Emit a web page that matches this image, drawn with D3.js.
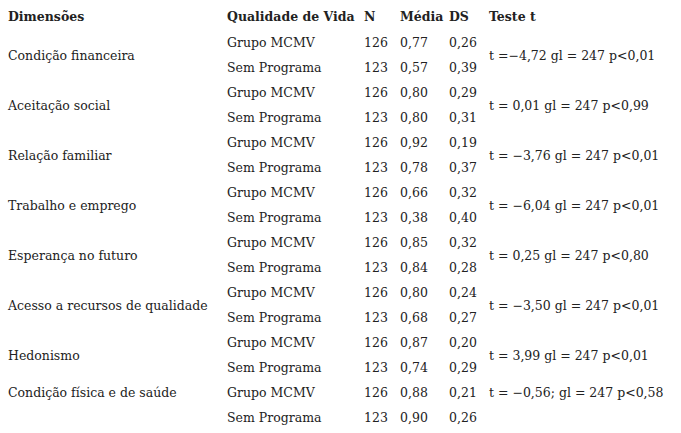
<!DOCTYPE html><html><head><meta charset="utf-8"><script src="https://cdn.jsdelivr.net/npm/d3@7"></script>
<style>body{margin:0;background:#fff}text{font-family:"DejaVu Serif",serif;font-size:12.5px;fill:#222}</style></head><body>
<svg id="c" width="681" height="433"></svg>
<script>
const headers=["Dimensões","Qualidade de Vida","N","Média","DS","Teste t"];
const dimensions=["Condição financeira","Aceitação social","Relação familiar","Trabalho e emprego","Esperança no futuro","Acesso a recursos de qualidade","Hedonismo","Condição física e de saúde"];
const groups=["Grupo MCMV","Sem Programa"];
const nValues=[[126,123],[126,123],[126,123],[126,123],[126,123],[126,123],[126,123],[126,123]];
const means=[["0,77","0,57"],["0,80","0,80"],["0,92","0,78"],["0,66","0,38"],["0,85","0,84"],["0,80","0,68"],["0,87","0,74"],["0,88","0,90"]];
const sds=[["0,26","0,39"],["0,29","0,31"],["0,19","0,37"],["0,32","0,40"],["0,32","0,28"],["0,24","0,27"],["0,20","0,29"],["0,21","0,26"]];
const tests=["t =−4,72 gl = 247 p<0,01","t = 0,01 gl = 247 p<0,99","t = −3,76 gl = 247 p<0,01","t = −6,04 gl = 247 p<0,01","t = 0,25 gl = 247 p<0,80","t = −3,50 gl = 247 p<0,01","t = 3,99 gl = 247 p<0,01","t = −0,56; gl = 247 p<0,58"];
const labelOffset=[0.5,0.5,0.5,0.5,0.5,0.5,0.5,0];
const svg=d3.select("#c");
const x=d3.scaleOrdinal().domain(headers).range([8,227,364,400,449,489]);
const y=d3.scaleLinear().domain([0,16]).range([43,43+25*16]);
headers.forEach(h=>svg.append("text").attr("x",x(h)).attr("y",17).attr("dy","0.35em").attr("font-weight","bold").text(h));
dimensions.forEach((d,i)=>{
  const yc=y(2*i+labelOffset[i]);
  svg.append("text").attr("x",x(headers[0])).attr("y",yc).attr("dy","0.35em").text(d);
  svg.append("text").attr("x",x(headers[5])).attr("y",yc).attr("dy","0.35em").text(tests[i]);
  groups.forEach((g,j)=>{
    const yy=y(2*i+j);
    [[1,g],[2,nValues[i][j]],[3,means[i][j]],[4,sds[i][j]]].forEach(([c,v])=>
      svg.append("text").attr("x",x(headers[c])).attr("y",yy).attr("dy","0.35em").text(v));
  });
});
</script></body></html>
